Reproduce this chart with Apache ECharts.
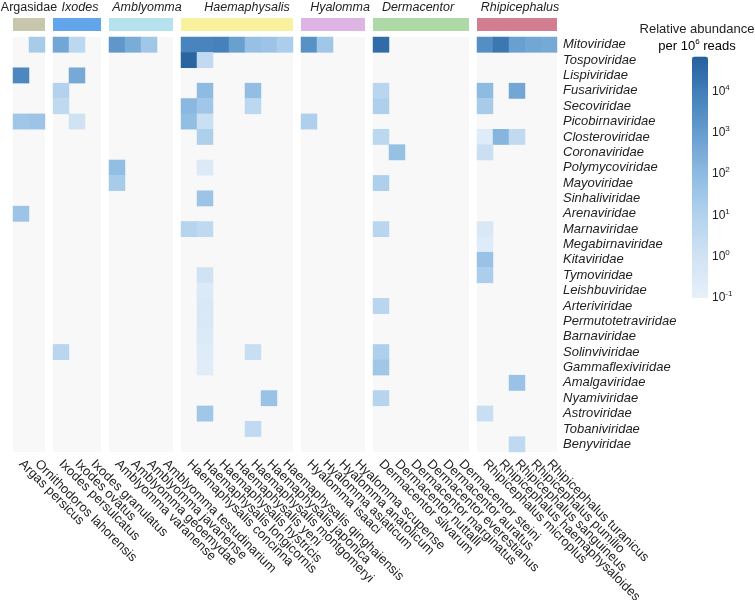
<!DOCTYPE html>
<html><head><meta charset="utf-8">
<script src="https://cdn.jsdelivr.net/npm/echarts@6/dist/echarts.min.js"></script>
<style>html,body{margin:0;padding:0;background:#fff}#c{width:755px;height:600px}</style>
</head><body><div id="c"></div>
<script>
const _ = null;
const groups = ['Argasidae', 'Ixodes', 'Amblyomma', 'Haemaphysalis', 'Hyalomma', 'Dermacentor', 'Rhipicephalus'];
const groupSpecies = [
  ['Argas persicus', 'Ornithodoros lahorensis'],
  ['Ixodes persulcatus', 'Ixodes ovatus', 'Ixodes granulatus'],
  ['Amblyomma varanense', 'Amblyomma geoemydae', 'Amblyomma javanense', 'Amblyomma testudinarium'],
  ['Haemaphysalis concinna', 'Haemaphysalis longicornis', 'Haemaphysalis hystricis', 'Haemaphysalis yeni', 'Haemaphysalis montgomeryi', 'Haemaphysalis japonica', 'Haemaphysalis qinghaiensis'],
  ['Hyalomma isaaci', 'Hyalomma asiaticum', 'Hyalomma anatolicum', 'Hyalomma scupense'],
  ['Dermacentor silvarum', 'Dermacentor nuttalli', 'Dermacentor marginatus', 'Dermacentor everestianus', 'Dermacentor auratus', 'Dermacentor steini'],
  ['Rhipicephalus microplus', 'Rhipicephalus haemaphysaloides', 'Rhipicephalus sanguineus', 'Rhipicephalus pumilio', 'Rhipicephalus turanicus']
];
const viruses = ['Mitoviridae', 'Tospoviridae', 'Lispiviridae', 'Fusariviridae', 'Secoviridae', 'Picobirnaviridae', 'Closteroviridae', 'Coronaviridae', 'Polymycoviridae', 'Mayoviridae', 'Sinhaliviridae', 'Arenaviridae', 'Marnaviridae', 'Megabirnaviridae', 'Kitaviridae', 'Tymoviridae', 'Leishbuviridae', 'Arteriviridae', 'Permutotetraviridae', 'Barnaviridae', 'Solinviviridae', 'Gammaflexiviridae', 'Amalgaviridae', 'Nyamiviridae', 'Astroviridae', 'Tobaniviridae', 'Benyviridae'];
// log10(relative abundance per 10^6 reads); rows = viruses, columns = species in group order
const log10Abundance = [
  [_,1.3,  2.7,0.7,_,  3.2,2.5,1.5,_,  3.8,3.8,3.9,2.9,1.8,1.6,1.2,  3.4,1.5,_,_,  4.5,_,_,_,_,_,  3.5,4.2,2.9,2.7,2.6],
  [_,_,    _,_,_,      _,_,_,_,        4.7,0.5,_,_,_,_,_,           _,_,_,_,      _,_,_,_,_,_,    _,_,_,_,_],
  [3.7,_,  _,2.6,_,    _,_,_,_,        _,_,_,_,_,_,_,               _,_,_,_,      _,_,_,_,_,_,    _,_,_,_,_],
  [_,_,    1.0,_,_,    _,_,_,_,        _,2.0,_,_,1.9,_,_,           _,_,_,_,      0.8,_,_,_,_,_,  2.0,_,2.7,_,_],
  [_,_,    0.6,_,_,    _,_,_,_,        2.1,1.5,_,_,0.7,_,_,         _,_,_,_,      1.1,_,_,_,_,_,  1.3,_,_,_,_],
  [1.5,1.6, _,0.0,_,   _,_,_,_,        1.9,0.2,_,_,_,_,_,           1.1,_,_,_,    _,_,_,_,_,_,    _,_,_,_,_],
  [_,_,    _,_,_,      _,_,_,_,        _,1.1,_,_,_,_,_,             _,_,_,_,      0.7,_,_,_,_,_,  -0.6,2.2,0.5,_,_],
  [_,_,    _,_,_,      _,_,_,_,        _,_,_,_,_,_,_,               _,_,_,_,      _,1.8,_,_,_,_,  0.2,_,_,_,_],
  [_,_,    _,_,_,      1.9,_,_,_,      _,-0.5,_,_,_,_,_,            _,_,_,_,      _,_,_,_,_,_,    _,_,_,_,_],
  [_,_,    _,_,_,      1.3,_,_,_,      _,_,_,_,_,_,_,               _,_,_,_,      1.1,_,_,_,_,_,  _,_,_,_,_],
  [_,_,    _,_,_,      _,_,_,_,        _,1.6,_,_,_,_,_,             _,_,_,_,      _,_,_,_,_,_,    _,_,_,_,_],
  [1.6,_,  _,_,_,      _,_,_,_,        _,_,_,_,_,_,_,               _,_,_,_,      _,_,_,_,_,_,    _,_,_,_,_],
  [_,_,    _,_,_,      _,_,_,_,        0.9,0.6,_,_,_,_,_,           _,_,_,_,      0.8,_,_,_,_,_,  -0.4,_,_,_,_],
  [_,_,    _,_,_,      _,_,_,_,        _,_,_,_,_,_,_,               _,_,_,_,      _,_,_,_,_,_,    -0.6,_,_,_,_],
  [_,_,    _,_,_,      _,_,_,_,        _,_,_,_,_,_,_,               _,_,_,_,      _,_,_,_,_,_,    1.7,_,_,_,_],
  [_,_,    _,_,_,      _,_,_,_,        _,0.0,_,_,_,_,_,             _,_,_,_,      _,_,_,_,_,_,    1.2,_,_,_,_],
  [_,_,    _,_,_,      _,_,_,_,        _,-0.5,_,_,_,_,_,            _,_,_,_,      _,_,_,_,_,_,    _,_,_,_,_],
  [_,_,    _,_,_,      _,_,_,_,        _,-0.4,_,_,_,_,_,            _,_,_,_,      0.8,_,_,_,_,_,  _,_,_,_,_],
  [_,_,    _,_,_,      _,_,_,_,        _,-0.4,_,_,_,_,_,            _,_,_,_,      _,_,_,_,_,_,    _,_,_,_,_],
  [_,_,    _,_,_,      _,_,_,_,        _,-0.5,_,_,_,_,_,            _,_,_,_,      _,_,_,_,_,_,    _,_,_,_,_],
  [_,_,    0.8,_,_,    _,_,_,_,        _,-0.6,_,_,0.3,_,_,          _,_,_,_,      1.1,_,_,_,_,_,  _,_,_,_,_],
  [_,_,    _,_,_,      _,_,_,_,        _,-0.7,_,_,_,_,_,            _,_,_,_,      1.5,_,_,_,_,_,  _,_,_,_,_],
  [_,_,    _,_,_,      _,_,_,_,        _,_,_,_,_,_,_,               _,_,_,_,      _,_,_,_,_,_,    _,_,1.7,_,_],
  [_,_,    _,_,_,      _,_,_,_,        _,_,_,_,_,1.7,_,             _,_,_,_,      0.9,_,_,_,_,_,  _,_,_,_,_],
  [_,_,    _,_,_,      _,_,_,_,        _,1.5,_,_,_,_,_,             _,_,_,_,      _,_,_,_,_,_,    0.3,_,_,_,_],
  [_,_,    _,_,_,      _,_,_,_,        _,_,_,_,0.5,_,_,             _,_,_,_,      _,_,_,_,_,_,    _,_,_,_,_],
  [_,_,    _,_,_,      _,_,_,_,        _,_,_,_,_,_,_,               _,_,_,_,      _,_,_,_,_,_,    _,_,0.6,_,_]
];
const colorbarMin = -1, colorbarMax = 4.85;

// styles / layout
const groupColors = ['#c9c6ae', '#62a5ea', '#b5e2ee', '#f9f19e', '#ddb4e4', '#aed9a7', '#d27d90'];
const titleShift = [0, 3, 6, 10, 7, -3, 3];
const FONT = '"Liberation Sans", Arial, sans-serif';
const startX = 13, cellW = 16, gapW = 8, topY = 37, gridH = 415;

const grids = [], xAxes = [], topAxes = [], yAxes = [], series = [];
let x = startX, colOffset = 0;
groups.forEach((g, gi) => {
  const sp = groupSpecies[gi];
  const w = sp.length * cellW;
  const sh = titleShift[gi];
  grids.push({left: x, top: topY, width: w, height: gridH, show: true, backgroundColor: '#f8f8f8', borderWidth: 0, outerBoundsMode: 'none', containLabel: false});
  xAxes.push({
    type: 'category', gridIndex: gi, data: sp, position: 'bottom',
    axisLine: {show: false}, axisTick: {show: false}, splitLine: {show: false},
    axisLabel: {interval: 0, rotate: -45, fontSize: 13, color: '#222', margin: 10, fontFamily: FONT}
  });
  topAxes.push({
    type: 'category', gridIndex: gi, data: sp, position: 'top', offset: 12.5,
    axisLine: {show: true, lineStyle: {color: groupColors[gi], width: 13, cap: 'butt'}},
    axisTick: {show: false}, axisLabel: {show: false}, splitLine: {show: false},
    name: g, nameLocation: 'middle', nameGap: 10,
    nameTextStyle: {fontSize: 12.5, color: '#222', fontFamily: FONT, fontStyle: gi === 0 ? 'normal' : 'italic',
      padding: sh >= 0 ? [0, 0, 0, 2 * sh] : [0, -2 * sh, 0, 0]}
  });
  yAxes.push({
    type: 'category', gridIndex: gi, data: viruses, inverse: true,
    position: gi === groups.length - 1 ? 'right' : 'left',
    axisLine: {show: false}, axisTick: {show: false}, splitLine: {show: false},
    axisLabel: {show: gi === groups.length - 1, interval: 0, fontSize: 13, fontStyle: 'italic', color: '#222', margin: 6, fontFamily: FONT}
  });
  const data = [];
  viruses.forEach((v, r) => {
    sp.forEach((s, c) => {
      const val = log10Abundance[r][colOffset + c];
      if (val !== null) data.push([c, r, val]);
    });
  });
  series.push({type: 'heatmap', xAxisIndex: gi, yAxisIndex: gi, data, itemStyle: {borderWidth: 0}, emphasis: {disabled: true}, progressive: 0});
  x += w + gapW;
  colOffset += sp.length;
});

// colorbar axis grid
const cbTop = 56.5, cbH = 241.5, cbLeft = 692, cbW = 16;
grids.push({left: cbLeft, top: cbTop, width: cbW, height: cbH, show: false, outerBoundsMode: 'none', containLabel: false});
const allX = xAxes.concat(topAxes);
allX.push({type: 'value', gridIndex: groups.length, show: false, min: 0, max: 1});
yAxes.push({
  type: 'value', gridIndex: groups.length, min: colorbarMin, max: colorbarMax, interval: 1, position: 'right',
  axisLine: {show: false}, axisTick: {show: false}, splitLine: {show: false},
  axisLabel: {
    margin: 4, showMaxLabel: false, showMinLabel: true,
    formatter: v => Math.abs(v - Math.round(v)) < 1e-6 ? '{b|10}{s|' + Math.round(v) + '}' : '',
    rich: {
      b: {fontSize: 12, color: '#222', fontFamily: FONT},
      s: {fontSize: 8, color: '#222', fontFamily: FONT, padding: [0, 0, 8, 0]}
    }
  }
});
series.push({type: 'scatter', xAxisIndex: allX.length - 1, yAxisIndex: groups.length, data: []});

const option = {
  backgroundColor: '#fff',
  animation: false,
  textStyle: {fontFamily: FONT},
  grid: grids,
  xAxis: allX,
  yAxis: yAxes,
  visualMap: {
    type: 'continuous', min: colorbarMin, max: colorbarMax, seriesIndex: groups.map((g, i) => i),
    left: cbLeft - 5, top: cbTop - 5, padding: 5, itemWidth: cbW, itemHeight: cbH,
    calculable: false, hoverLink: false,
    inRange: {color: ['#e7f0fa', '#d1e3f4', '#b5d3ee', '#91bde3', '#6aa0d0', '#4682bb', '#25609e']}
  },
  graphic: [
    {type: 'text', x: 697, y: 29, style: {text: 'Relative abundance', fontSize: 13, fontFamily: FONT, fill: '#222', align: 'center', verticalAlign: 'middle'}},
    {type: 'text', x: 697, y: 46, style: {
      text: '{t|per 10}{s|6}{t| reads}', align: 'center', verticalAlign: 'middle',
      rich: {
        t: {fontSize: 13, fontFamily: FONT, color: '#222'},
        s: {fontSize: 8, fontFamily: FONT, color: '#222', padding: [0, 0, 8, 0]}
      }
    }}
  ],
  series
};
const chart = echarts.init(document.getElementById('c'), null, {renderer: 'canvas'});
chart.setOption(option);
</script></body></html>
